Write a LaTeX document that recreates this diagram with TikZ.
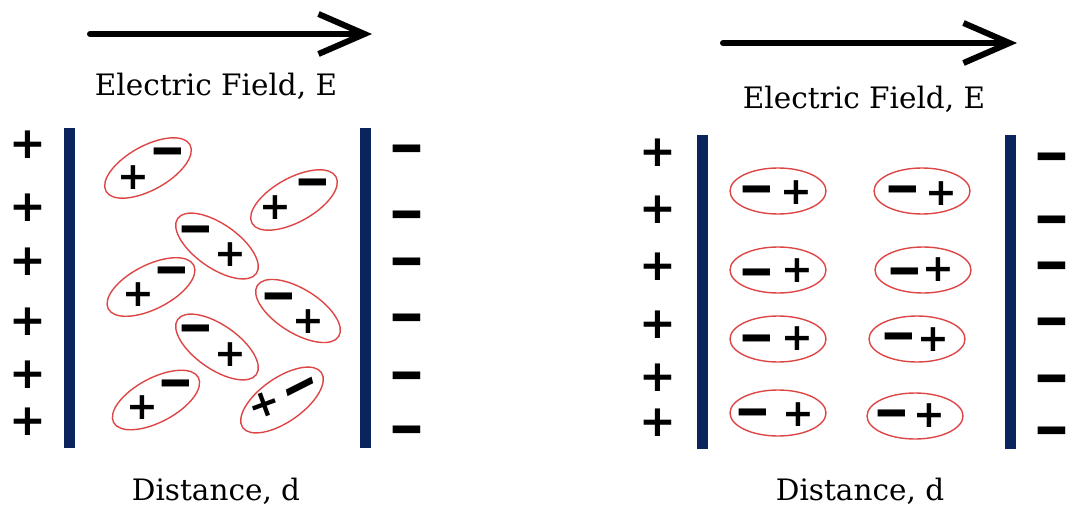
\documentclass[tikz,border=0pt]{standalone}
\usepackage{fontspec}
\setmainfont{DejaVu Serif}
\newfontfamily\signfont{DejaVu Sans}
\usetikzlibrary{arrows.meta,shapes.geometric}

\definecolor{platenavy}{RGB}{12,36,94}
\definecolor{dipred}{RGB}{222,70,70}

\tikzset{
	plate/.style={line width=11pt, draw=platenavy},
	field/.style={line width=6pt, line cap=round, -{Straight Barb[length=46pt,width=40pt]}},
	caption/.style={font=\fontsize{29.5}{30}\selectfont},
	plussign/.style={inner sep=0pt, font=\signfont\bfseries\fontsize{44}{44}\selectfont},
	minussign/.style={inner sep=0pt, font=\signfont\bfseries\fontsize{44}{44}\selectfont, yshift=-8pt, yscale=1.5, transform shape},
	iplus/.style={inner sep=0pt, font=\signfont\bfseries\fontsize{38}{38}\selectfont},
	iminus/.style={inner sep=0pt, font=\signfont\bfseries\fontsize{38}{38}\selectfont, yshift=-7pt, xscale=1.15, yscale=1.6, transform shape},
	dipole/.style={ellipse, draw=dipred, line width=1.4pt, inner sep=0pt, minimum width=96pt, minimum height=44pt}
}

\begin{document}
\begin{tikzpicture}[x=1pt, y=1pt]
		\useasboundingbox (0,0) rectangle (1067,-508);

		% random orientation, no field
		\draw[field] (90,-34) -- (372,-34);
		\node[caption] (fieldl) at (216,-86) {Electric Field, E};
		\node[caption] (distl) at (216,-491) {Distance, d};

		\draw[plate] (69,-128) -- (69,-448);
		\draw[plate] (365,-128) -- (365,-448);

		\node[plussign] (lp1) at (28,-145) {+};
		\node[plussign] (lp2) at (28,-208) {+};
		\node[plussign] (lp3) at (28,-262) {+};
		\node[plussign] (lp4) at (28,-322) {+};
		\node[plussign] (lp5) at (28,-375) {+};
		\node[plussign] (lp6) at (28,-422) {+};
		\node[minussign] (lm1) at (407,-149) {−};
		\node[minussign] (lm2) at (407,-215) {−};
		\node[minussign] (lm3) at (407,-262) {−};
		\node[minussign] (lm4) at (407,-318) {−};
		\node[minussign] (lm5) at (407,-376) {−};
		\node[minussign] (lm6) at (407,-430) {−};

		\node[dipole, rotate=29] (dl1) at (148,-168) {};
		\node[iplus] (dl1p) at (133,-178) {+};
		\node[iminus] (dl1m) at (168,-152) {−};
		\node[dipole, rotate=29] (dl2) at (294,-200) {};
		\node[iplus] (dl2p) at (275,-208) {+};
		\node[iminus] (dl2m) at (313,-183) {−};
		\node[dipole, rotate=-35] (dl3) at (217,-246) {};
		\node[iminus] (dl3m) at (196,-230) {−};
		\node[iplus] (dl3p) at (230,-255) {+};
		\node[dipole, rotate=27] (dl4) at (151,-287) {};
		\node[iplus] (dl4p) at (138,-295) {+};
		\node[iminus] (dl4m) at (172,-271) {−};
		\node[dipole, rotate=-32] (dl5) at (298,-311) {};
		\node[iminus] (dl5m) at (279,-297) {−};
		\node[iplus] (dl5p) at (308,-322) {+};
		\node[dipole, rotate=-35] (dl6) at (217,-347) {};
		\node[iminus] (dl6m) at (196,-329) {−};
		\node[iplus] (dl6p) at (230,-355) {+};
		\node[dipole, rotate=28] (dl7) at (156,-400) {};
		\node[iplus] (dl7p) at (142,-408) {+};
		\node[iminus] (dl7m) at (176,-384) {−};
		\node[dipole, rotate=35] (dl8) at (282,-400) {};
		\node[iplus, rotate=20] (dl8p) at (264,-405) {+};
		\node[iminus, rotate=20] (dl8m) at (302,-387) {−};

		% aligned with the field
		\draw[field] (723,-43) -- (1017,-43);
		\node[caption] (fieldr) at (864,-99) {Electric Field, E};
		\node[caption] (distr) at (860,-491) {Distance, d};

		\draw[plate] (702,-135) -- (702,-449);
		\draw[plate] (1010,-135) -- (1010,-449);

		\node[plussign] (rp1) at (658,-153) {+};
		\node[plussign] (rp2) at (658,-210) {+};
		\node[plussign] (rp3) at (658,-267) {+};
		\node[plussign] (rp4) at (658,-325) {+};
		\node[plussign] (rp5) at (658,-378) {+};
		\node[plussign] (rp6) at (658,-423) {+};
		\node[minussign] (rm1) at (1052,-157) {−};
		\node[minussign] (rm2) at (1052,-220) {−};
		\node[minussign] (rm3) at (1052,-266) {−};
		\node[minussign] (rm4) at (1052,-322) {−};
		\node[minussign] (rm5) at (1052,-379) {−};
		\node[minussign] (rm6) at (1052,-431) {−};

		\node[dipole, minimum height=46pt] (dr1) at (778,-191) {};
		\node[iminus] (dr1m) at (757,-190) {−};
		\node[iplus] (dr1p) at (796,-193) {+};
		\node[dipole, minimum height=46pt] (dr2) at (922,-191) {};
		\node[iminus] (dr2m) at (903,-190) {−};
		\node[iplus] (dr2p) at (941,-194) {+};
		\node[dipole, minimum height=46pt] (dr3) at (778,-270) {};
		\node[iminus] (dr3m) at (757,-273) {−};
		\node[iplus] (dr3p) at (797,-271) {+};
		\node[dipole, minimum height=46pt] (dr4) at (923,-270) {};
		\node[iminus] (dr4m) at (905,-272) {−};
		\node[iplus] (dr4p) at (938,-270) {+};
		\node[dipole, minimum height=46pt] (dr5) at (778,-339) {};
		\node[iminus] (dr5m) at (757,-339) {−};
		\node[iplus] (dr5p) at (797,-339) {+};
		\node[dipole, minimum height=46pt] (dr6) at (917,-339) {};
		\node[iminus] (dr6m) at (899,-337) {−};
		\node[iplus] (dr6p) at (933,-340) {+};
		\node[dipole, minimum height=46pt] (dr7) at (778,-413) {};
		\node[iminus] (dr7m) at (753,-413) {−};
		\node[iplus] (dr7p) at (798,-415) {+};
		\node[dipole, minimum height=46pt] (dr8) at (915,-416) {};
		\node[iminus] (dr8m) at (892,-414) {−};
		\node[iplus] (dr8p) at (929,-416) {+};
	\end{tikzpicture}
\end{document}
